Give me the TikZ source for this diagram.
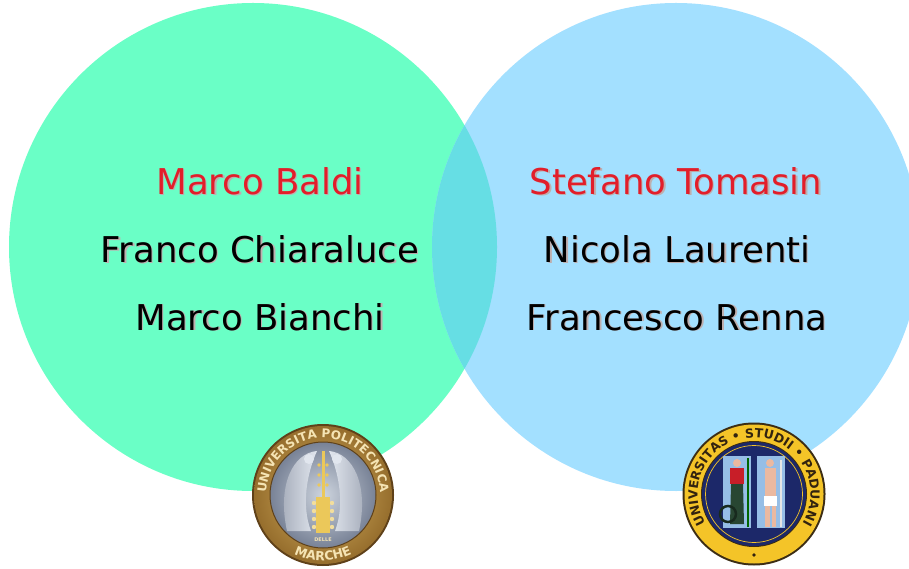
\documentclass[tikz,border=0pt]{standalone}
\usepackage{fontspec}
\setmainfont{DejaVu Sans}
\usetikzlibrary{decorations.text}
\definecolor{cgreen}{RGB}{106,255,198}
\definecolor{cblue}{RGB}{163,224,255}
\definecolor{cover}{RGB}{102,222,228}
\definecolor{cred}{RGB}{226,30,42}
\definecolor{shad}{RGB}{190,175,175}
\definecolor{goldA}{RGB}{214,176,96}
\definecolor{goldB}{RGB}{150,110,45}
\definecolor{brownE}{RGB}{95,65,25}
\definecolor{grayA}{RGB}{205,212,222}
\definecolor{grayB}{RGB}{120,130,150}
\definecolor{silver}{RGB}{225,230,238}
\definecolor{keygold}{RGB}{235,200,90}
\definecolor{ringtxt}{RGB}{245,228,180}
\definecolor{yel}{RGB}{244,196,40}
\definecolor{navy}{RGB}{28,40,105}
\definecolor{panel}{RGB}{150,190,230}
\definecolor{skin}{RGB}{235,185,160}
\definecolor{dress}{RGB}{200,30,40}
\definecolor{skirt}{RGB}{40,70,50}
\definecolor{darkedge}{RGB}{60,45,20}
\definecolor{sealtxt}{RGB}{50,35,15}
\tikzset{
  person/.style={font=\fontsize{35.5}{40}\selectfont, anchor=base, inner sep=0pt},
  lead/.style={person, text=cred},
  member/.style={person, text=black},
  shadowtxt/.style={person, text=shad},
}
\begin{document}
\begin{tikzpicture}[x=1pt,y=1pt]
\useasboundingbox (0,0) rectangle (909,568);
\fill[white] (0,0) rectangle (909,568);
% circles
\fill[cgreen] (253,321) circle (244);
\fill[cblue] (676,321) circle (244);
\begin{scope}
  \clip (253,321) circle (244);
  \fill[cover] (676,321) circle (244);
\end{scope}
% left names
\node[shadowtxt] (s1) at (261.3,372.2) {Marco Baldi};
\node[lead] (n1) at (260,373) {Marco Baldi};
\node[shadowtxt] (s2) at (261.3,304.7) {Franco Chiaraluce};
\node[member] (n2) at (260,305.5) {Franco Chiaraluce};
\node[shadowtxt] (s3) at (261.3,237.2) {Marco Bianchi};
\node[member] (n3) at (260,238) {Marco Bianchi};
% right names
\node[shadowtxt] (s4) at (677.3,372.2) {Stefano Tomasin};
\node[lead] (n4) at (676,373) {Stefano Tomasin};
\node[shadowtxt] (s5) at (678.3,304.7) {Nicola Laurenti};
\node[member] (n5) at (677,305.5) {Nicola Laurenti};
\node[shadowtxt] (s6) at (678.3,237.2) {Francesco Renna};
\node[member] (n6) at (677,238) {Francesco Renna};
% left seal
\begin{scope}[shift={(323,73)}]
  \fill[brownE] (0,0) circle (71);
  \shade[inner color=goldA, outer color=goldB] (0,0) circle (69);
  \shade[inner color=grayA, outer color=grayB] (0,0) circle (53);
  \draw[brownE, line width=1] (0,0) circle (53);
  % birds
  \shade[left color=grayB!70, right color=silver]
    (-6,44) .. controls (-30,42) and (-46,10) .. (-36,-36)
    -- (-12,-36) .. controls (-22,-10) and (-16,22) .. (-6,44) -- cycle;
  \shade[right color=grayB!70, left color=silver]
    (6,44) .. controls (30,42) and (46,10) .. (36,-36)
    -- (12,-36) .. controls (22,-10) and (16,22) .. (6,44) -- cycle;
  \fill[silver] (-14,36) circle (5);
  \fill[silver] (14,36) circle (5);
  % key column
  \fill[keygold] (-1.5,-5) rectangle (1.5,44);
  \fill[keygold] (-7,-38) rectangle (7,-2);
  \foreach \yy in {-32,-24,-16,-8} {
    \fill[keygold!60!white] (-9,\yy) circle (2.2);
    \fill[keygold!60!white] (9,\yy) circle (2.2);
  }
  \foreach \yy in {10,20,30} {
    \fill[keygold] (-4,\yy) circle (1.8);
    \fill[keygold] (4,\yy) circle (1.8);
  }
  \node[font=\fontsize{5}{5}\selectfont\bfseries, text=ringtxt, inner sep=0pt] (delle) at (0,-45) {DELLE};
  \path[decorate, decoration={text along path, text align=center, text color=ringtxt,
     text={|\fontsize{12}{12}\selectfont\bfseries|UNIVERSITA POLITECNICA}}]
     (205:57) arc[start angle=205, end angle=-25, radius=57];
  \path[decorate, decoration={text along path, text align=center, text color=ringtxt,
     text={|\fontsize{12.5}{12}\selectfont\bfseries|MARCHE}}]
     (235:65.5) arc[start angle=235, end angle=305, radius=65.5];
\end{scope}
% right seal
\begin{scope}[shift={(754,74)}]
  \fill[darkedge] (0,0) circle (71.5);
  \fill[yel] (0,0) circle (69.5);
  \fill[darkedge] (0,0) circle (53);
  \fill[navy] (0,0) circle (52);
  \draw[yel, line width=0.7] (0,0) circle (48.5);
  \fill[panel] (-31,-34) rectangle (-3,38);
  \fill[panel] (3,-34) rectangle (31,38);
  % left figure
  \fill[skin] (-17,31) circle (4);
  \fill[dress] (-24,10) rectangle (-10,26);
  \fill[skirt] (-24,-30) -- (-10,-30) -- (-11,10) -- (-23,10) -- cycle;
  \draw[skirt!60!black, line width=2.5] (-26,-20) circle (8);
  \draw[green!40!black, line width=1.5] (-6,-33) -- (-6,36);
  % right figure
  \fill[skin] (16,31) circle (4);
  \fill[skin] (11,-2) rectangle (22,26);
  \fill[white] (10,-12) rectangle (23,-2);
  \fill[skin] (11,-33) rectangle (15.5,-12);
  \fill[skin] (17.5,-33) rectangle (22,-12);
  \draw[white!80!gray, line width=1.2] (27,-33) -- (27,34);
  \path[decorate, decoration={text along path, text align=center, text color=sealtxt,
     text={|\fontsize{12.5}{12}\selectfont\bfseries|UNIVERSITAS • STUDII • PADUANI}}]
     (237:56.5) arc[start angle=237, end angle=-57, radius=56.5];
  \fill[sealtxt] (0,-61) circle (1.8);
\end{scope}
\end{tikzpicture}
\end{document}
